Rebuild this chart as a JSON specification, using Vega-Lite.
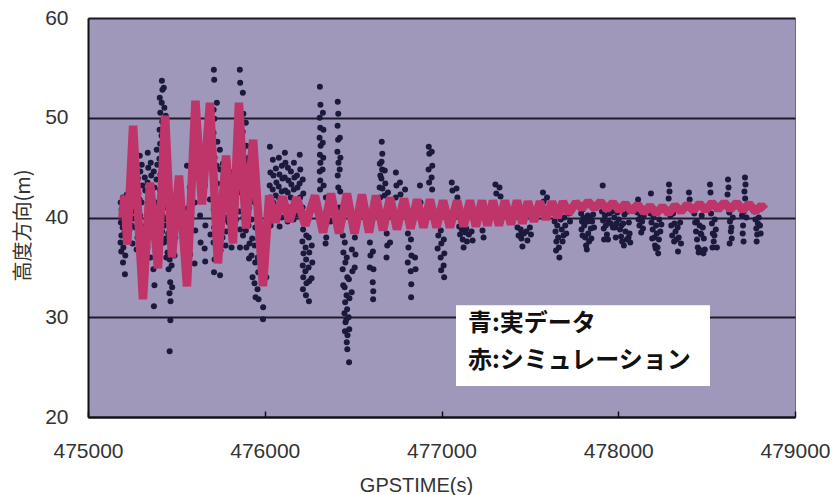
{
  "$schema": "https://vega.github.io/schema/vega-lite/v6.json",
  "width": 707,
  "height": 399,
  "autosize": "none",
  "padding": {"left": 88, "top": 18, "right": 37, "bottom": 78},
  "background": "white",
  "config": {"view": {"fill": "#a098ba", "stroke": "#6e6882", "strokeWidth": 1}},
  "datasets": {
    "real": [
      {"t":475185,"h":41.5},{"t":475190,"h":40.8},{"t":475186,"h":39.5},{"t":475189,"h":38.2},{"t":475184,"h":37.5},{"t":475188,"h":36.6},
      {"t":475197,"h":42.0},{"t":475201,"h":40.2},{"t":475196,"h":39.0},{"t":475200,"h":37.0},{"t":475198,"h":35.5},
      {"t":475208,"h":41.2},{"t":475212,"h":39.8},{"t":475207,"h":38.5},{"t":475211,"h":36.2},{"t":475209,"h":34.3},
      {"t":475220,"h":42.3},{"t":475223,"h":40.5},{"t":475219,"h":38.0},{"t":475222,"h":37.6},
      {"t":475237,"h":43.5},{"t":475240,"h":42.5},{"t":475236,"h":41.0},{"t":475239,"h":40.0},{"t":475235,"h":38.8},
      {"t":475248,"h":44.5},{"t":475251,"h":43.2},{"t":475247,"h":41.8},{"t":475250,"h":40.6},{"t":475246,"h":39.2},{"t":475252,"h":37.4},
      {"t":475259,"h":45.8},{"t":475262,"h":44.0},{"t":475258,"h":42.6},{"t":475261,"h":41.3},{"t":475257,"h":39.9},
      {"t":475271,"h":44.8},{"t":475274,"h":43.6},{"t":475270,"h":42.2},{"t":475273,"h":40.8},{"t":475269,"h":39.0},{"t":475275,"h":36.8},
      {"t":475282,"h":43.9},{"t":475285,"h":42.4},{"t":475281,"h":41.0},{"t":475284,"h":39.6},{"t":475280,"h":38.0},
      {"t":475293,"h":46.2},{"t":475296,"h":44.6},{"t":475292,"h":41.8},{"t":475295,"h":40.2},{"t":475291,"h":37.5},{"t":475297,"h":35.8},
      {"t":475304,"h":45.3},{"t":475307,"h":43.2},{"t":475303,"h":41.5},{"t":475306,"h":39.1},{"t":475302,"h":34.5},{"t":475308,"h":33.0},
      {"t":475321,"h":44.0},{"t":475324,"h":42.7},{"t":475320,"h":38.5},{"t":475323,"h":35.0},
      {"t":475338,"h":46.5},{"t":475341,"h":45.0},{"t":475337,"h":43.5},{"t":475340,"h":40.6},{"t":475336,"h":37.0},
      {"t":475355,"h":45.5},{"t":475358,"h":44.2},{"t":475354,"h":42.0},{"t":475357,"h":39.5},{"t":475353,"h":36.0},
      {"t":475372,"h":44.6},{"t":475375,"h":43.0},{"t":475371,"h":40.8},{"t":475374,"h":38.0},{"t":475370,"h":34.8},{"t":475376,"h":33.2},{"t":475373,"h":31.1},
      {"t":475389,"h":46.8},{"t":475392,"h":45.3},{"t":475388,"h":43.8},{"t":475391,"h":41.5},{"t":475387,"h":39.0},{"t":475393,"h":35.6},
      {"t":475406,"h":52.0},{"t":475409,"h":50.5},{"t":475405,"h":48.8},{"t":475408,"h":47.4},{"t":475404,"h":45.9},{"t":475410,"h":44.3},{"t":475406,"h":42.8},{"t":475409,"h":41.2},{"t":475405,"h":39.6},{"t":475408,"h":38.0},
      {"t":475418,"h":53.7},{"t":475421,"h":52.8},{"t":475417,"h":51.5},{"t":475420,"h":49.6},{"t":475416,"h":48.2},{"t":475422,"h":46.5},{"t":475418,"h":45.0},{"t":475421,"h":43.5},{"t":475417,"h":41.9},{"t":475420,"h":40.2},{"t":475419,"h":38.6},
      {"t":475429,"h":53.0},{"t":475432,"h":51.0},{"t":475428,"h":49.0},{"t":475431,"h":47.0},{"t":475427,"h":45.2},{"t":475433,"h":43.0},{"t":475429,"h":41.0},{"t":475432,"h":39.2},{"t":475430,"h":37.5},
      {"t":475440,"h":50.2},{"t":475443,"h":47.8},{"t":475439,"h":45.5},{"t":475442,"h":43.8},{"t":475438,"h":41.6},{"t":475444,"h":39.8},{"t":475440,"h":37.9},{"t":475443,"h":36.0},
      {"t":475452,"h":44.8},{"t":475455,"h":42.5},{"t":475451,"h":40.0},{"t":475454,"h":38.4},{"t":475450,"h":36.5},{"t":475456,"h":34.8},
      {"t":475463,"h":41.3},{"t":475466,"h":38.8},{"t":475462,"h":35.8},{"t":475465,"h":33.5},{"t":475461,"h":32.4},{"t":475467,"h":31.6},{"t":475466,"h":29.7},{"t":475462,"h":26.6},
      {"t":475474,"h":39.5},{"t":475477,"h":37.2},{"t":475473,"h":35.2},{"t":475476,"h":33.0},
      {"t":475491,"h":40.5},{"t":475494,"h":38.0},{"t":475490,"h":36.2},
      {"t":475560,"h":45.2},{"t":475563,"h":40.9},
      {"t":475576,"h":43.0},{"t":475579,"h":39.5},{"t":475575,"h":37.8},{"t":475578,"h":36.3},
      {"t":475604,"h":41.5},{"t":475607,"h":38.7},{"t":475603,"h":35.4},
      {"t":475634,"h":40.2},{"t":475637,"h":37.5},
      {"t":475661,"h":43.2},{"t":475664,"h":39.2},{"t":475660,"h":36.9},{"t":475663,"h":35.6},
      {"t":475690,"h":41.8},{"t":475693,"h":38.3},
      {"t":475712,"h":54.8},{"t":475714,"h":53.8},{"t":475711,"h":50.8},{"t":475715,"h":49.9},{"t":475710,"h":48.5},{"t":475716,"h":46.0},{"t":475712,"h":44.2},{"t":475715,"h":42.6},{"t":475711,"h":40.8},{"t":475714,"h":39.0},{"t":475710,"h":37.5},{"t":475716,"h":35.8},{"t":475713,"h":34.5},
      {"t":475729,"h":51.5},{"t":475732,"h":47.6},{"t":475728,"h":45.2},{"t":475731,"h":43.4},{"t":475727,"h":41.0},{"t":475733,"h":39.4},{"t":475729,"h":37.8},{"t":475732,"h":36.2},
      {"t":475746,"h":46.8},{"t":475749,"h":44.8},{"t":475745,"h":42.0},{"t":475748,"h":40.3},{"t":475744,"h":38.4},{"t":475750,"h":36.7},{"t":475747,"h":34.2},
      {"t":475763,"h":45.4},{"t":475766,"h":43.5},{"t":475762,"h":41.6},{"t":475765,"h":39.7},{"t":475761,"h":38.0},
      {"t":475780,"h":44.0},{"t":475783,"h":42.1},{"t":475779,"h":40.0},{"t":475782,"h":38.6},{"t":475778,"h":37.2},
      {"t":475797,"h":43.0},{"t":475800,"h":41.3},{"t":475796,"h":39.5},
      {"t":475814,"h":44.5},{"t":475817,"h":42.6},{"t":475813,"h":40.6},{"t":475816,"h":38.8},{"t":475812,"h":37.0},
      {"t":475836,"h":45.0},{"t":475839,"h":43.2},{"t":475835,"h":41.4},{"t":475838,"h":39.8},
      {"t":475859,"h":54.8},{"t":475861,"h":53.5},{"t":475858,"h":51.0},{"t":475862,"h":49.2},{"t":475857,"h":47.8},{"t":475863,"h":46.0},{"t":475859,"h":44.4},{"t":475862,"h":42.5},{"t":475858,"h":40.6},{"t":475861,"h":38.8},{"t":475860,"h":37.0},
      {"t":475876,"h":52.5},{"t":475879,"h":50.4},{"t":475875,"h":48.6},{"t":475878,"h":46.8},{"t":475874,"h":45.2},{"t":475880,"h":43.6},{"t":475876,"h":41.9},{"t":475879,"h":40.0},{"t":475877,"h":38.2},
      {"t":475893,"h":49.5},{"t":475896,"h":47.2},{"t":475892,"h":45.6},{"t":475895,"h":44.0},{"t":475891,"h":42.2},{"t":475897,"h":40.5},{"t":475893,"h":38.7},{"t":475896,"h":37.0},
      {"t":475910,"h":46.0},{"t":475913,"h":44.5},{"t":475909,"h":42.7},{"t":475912,"h":41.0},{"t":475908,"h":39.2},{"t":475914,"h":37.4},{"t":475911,"h":35.9},
      {"t":475927,"h":44.5},{"t":475930,"h":42.0},{"t":475926,"h":39.8},{"t":475929,"h":37.9},{"t":475925,"h":36.2},{"t":475931,"h":34.0},
      {"t":475944,"h":41.5},{"t":475947,"h":39.0},{"t":475943,"h":37.2},{"t":475946,"h":35.5},{"t":475942,"h":33.4},{"t":475948,"h":32.0},
      {"t":475961,"h":40.2},{"t":475964,"h":37.8},{"t":475960,"h":36.0},{"t":475963,"h":34.5},{"t":475959,"h":32.8},{"t":475965,"h":31.8},
      {"t":475989,"h":38.5},{"t":475992,"h":36.4},{"t":475988,"h":34.2},{"t":475991,"h":31.0},{"t":475990,"h":29.8},
      {"t":476006,"h":37.0},{"t":476009,"h":34.0},
      {"t":476029,"h":47.1},{"t":476032,"h":44.5},{"t":476028,"h":43.2},{"t":476031,"h":42.0},{"t":476027,"h":40.6},{"t":476033,"h":39.2},
      {"t":476046,"h":45.8},{"t":476049,"h":44.2},{"t":476045,"h":42.8},{"t":476048,"h":41.5},{"t":476044,"h":40.0},
      {"t":476063,"h":44.9},{"t":476066,"h":43.5},{"t":476062,"h":42.2},{"t":476065,"h":40.8},
      {"t":476080,"h":46.0},{"t":476083,"h":44.3},{"t":476079,"h":43.1},{"t":476082,"h":41.9},{"t":476078,"h":40.4},{"t":476084,"h":39.1},
      {"t":476097,"h":45.2},{"t":476100,"h":43.9},{"t":476096,"h":42.6},{"t":476099,"h":41.2},{"t":476095,"h":40.0},
      {"t":476114,"h":46.5},{"t":476117,"h":45.5},{"t":476113,"h":44.0},{"t":476116,"h":42.7},{"t":476112,"h":41.5},
      {"t":476131,"h":45.0},{"t":476134,"h":43.7},{"t":476130,"h":42.5},{"t":476133,"h":41.0},{"t":476129,"h":39.6},
      {"t":476148,"h":44.6},{"t":476151,"h":43.3},{"t":476147,"h":42.0},{"t":476150,"h":40.7},
      {"t":476165,"h":45.5},{"t":476168,"h":44.0},{"t":476164,"h":42.8},{"t":476167,"h":41.4},{"t":476163,"h":39.8},
      {"t":476182,"h":44.2},{"t":476185,"h":43.0},{"t":476181,"h":41.6},{"t":476184,"h":40.3},
      {"t":476198,"h":46.3},{"t":476201,"h":44.8},{"t":476197,"h":43.4},{"t":476200,"h":42.0},{"t":476196,"h":40.5},
      {"t":476215,"h":43.8},{"t":476218,"h":42.4},{"t":476214,"h":41.0},{"t":476217,"h":38.8},{"t":476213,"h":37.6},{"t":476219,"h":36.4},{"t":476215,"h":35.2},{"t":476218,"h":34.0},{"t":476216,"h":32.8},
      {"t":476232,"h":39.5},{"t":476235,"h":38.2},{"t":476231,"h":37.0},{"t":476234,"h":35.8},{"t":476230,"h":34.6},{"t":476236,"h":33.4},{"t":476233,"h":32.2},
      {"t":476249,"h":38.0},{"t":476252,"h":36.5},{"t":476248,"h":35.0},{"t":476251,"h":33.6},{"t":476250,"h":31.6},
      {"t":476266,"h":37.2},{"t":476269,"h":35.5},{"t":476265,"h":33.9},
      {"t":476312,"h":53.1},{"t":476315,"h":51.3},{"t":476311,"h":50.0},{"t":476314,"h":49.0},{"t":476310,"h":48.0},{"t":476316,"h":47.2},{"t":476312,"h":46.3},{"t":476315,"h":45.5},{"t":476311,"h":44.6},{"t":476314,"h":43.7},{"t":476313,"h":42.8},
      {"t":476329,"h":50.5},{"t":476332,"h":48.8},{"t":476328,"h":47.5},{"t":476331,"h":46.0},{"t":476327,"h":44.8},{"t":476333,"h":43.2},
      {"t":476346,"h":42.0},{"t":476349,"h":40.5},{"t":476345,"h":39.3},{"t":476348,"h":38.0},{"t":476344,"h":37.4},
      {"t":476369,"h":41.2},{"t":476372,"h":39.6},
      {"t":476413,"h":51.6},{"t":476416,"h":50.4},{"t":476412,"h":49.2},{"t":476415,"h":47.8},{"t":476411,"h":46.6},{"t":476417,"h":45.5},{"t":476413,"h":44.2},{"t":476416,"h":43.0},
      {"t":476425,"h":48.0},{"t":476428,"h":46.0},{"t":476424,"h":44.8},{"t":476427,"h":42.6},{"t":476423,"h":41.0},
      {"t":476442,"h":38.2},{"t":476445,"h":36.5},{"t":476441,"h":34.8},{"t":476444,"h":33.2},
      {"t":476453,"h":37.5},{"t":476456,"h":35.5},{"t":476452,"h":33.0},{"t":476455,"h":31.5},{"t":476451,"h":30.4},{"t":476457,"h":29.5},{"t":476454,"h":28.6},
      {"t":476464,"h":36.0},{"t":476467,"h":34.0},{"t":476463,"h":32.2},{"t":476466,"h":30.8},{"t":476462,"h":29.8},{"t":476468,"h":28.2},{"t":476464,"h":27.5},{"t":476467,"h":26.8},
      {"t":476476,"h":33.8},{"t":476479,"h":31.9},{"t":476475,"h":30.0},{"t":476478,"h":28.8},{"t":476477,"h":25.5},
      {"t":476493,"h":36.8},{"t":476496,"h":34.6},{"t":476492,"h":32.5},
      {"t":476510,"h":38.0},{"t":476513,"h":36.3},{"t":476509,"h":35.0},
      {"t":476595,"h":37.5},{"t":476598,"h":36.2},{"t":476594,"h":35.0},
      {"t":476612,"h":36.6},{"t":476615,"h":34.8},{"t":476611,"h":33.5},{"t":476614,"h":32.6},{"t":476613,"h":31.8},
      {"t":476651,"h":45.4},{"t":476654,"h":44.2},{"t":476650,"h":43.0},{"t":476653,"h":42.0},
      {"t":476662,"h":47.6},{"t":476665,"h":46.4},{"t":476661,"h":45.6},{"t":476664,"h":44.8},{"t":476660,"h":43.9},{"t":476666,"h":42.9},
      {"t":476679,"h":44.7},{"t":476682,"h":43.4},{"t":476678,"h":42.2},
      {"t":476697,"h":42.5},{"t":476700,"h":40.5},
      {"t":476690,"h":38.4},{"t":476693,"h":37.2},{"t":476689,"h":36.0},{"t":476709,"h":37.5},
      {"t":476742,"h":44.5},{"t":476745,"h":43.2},{"t":476741,"h":42.0},
      {"t":476765,"h":43.5},{"t":476768,"h":42.3},{"t":476794,"h":42.8},
      {"t":476810,"h":38.4},{"t":476813,"h":37.0},{"t":476809,"h":35.5},
      {"t":476827,"h":37.8},{"t":476830,"h":36.2},{"t":476826,"h":34.6},{"t":476829,"h":33.3},{"t":476828,"h":32.0},
      {"t":476850,"h":36.0},{"t":476853,"h":34.8},
      {"t":476878,"h":43.2},{"t":476881,"h":41.5},
      {"t":476928,"h":47.1},{"t":476931,"h":46.4},{"t":476927,"h":44.8},{"t":476930,"h":43.5},
      {"t":476945,"h":46.6},{"t":476948,"h":45.2},{"t":476944,"h":44.0},{"t":476947,"h":42.8},
      {"t":476979,"h":39.6},{"t":476982,"h":38.2},{"t":476978,"h":36.9},
      {"t":476996,"h":38.7},{"t":476999,"h":37.4},{"t":476995,"h":36.0},{"t":476998,"h":34.7},
      {"t":477013,"h":37.8},{"t":477016,"h":36.4},{"t":477012,"h":35.2},{"t":477015,"h":34.0},
      {"t":477058,"h":43.5},{"t":477062,"h":42.7},{"t":477085,"h":42.9},{"t":477090,"h":42.0},
      {"t":477100,"h":39.1},{"t":477105,"h":38.3},{"t":477115,"h":38.8},{"t":477120,"h":37.8},{"t":477125,"h":37.0},{"t":477135,"h":38.5},{"t":477140,"h":38.9},{"t":477144,"h":37.6},{"t":477155,"h":38.3},{"t":477170,"h":38.6},{"t":477176,"h":37.7},
      {"t":477232,"h":38.7},{"t":477238,"h":38.0},
      {"t":477305,"h":43.3},{"t":477310,"h":42.4},{"t":477328,"h":43.0},{"t":477334,"h":42.1},
      {"t":477430,"h":39.0},{"t":477436,"h":38.2},{"t":477448,"h":38.8},{"t":477452,"h":37.9},{"t":477455,"h":38.4},{"t":477458,"h":37.1},{"t":477466,"h":38.4},{"t":477480,"h":38.6},{"t":477486,"h":37.7},{"t":477500,"h":39.0},{"t":477506,"h":38.3},
      {"t":477574,"h":42.5},{"t":477578,"h":41.6},{"t":477597,"h":42.0},
      {"t":477640,"h":39.6},{"t":477645,"h":38.6},{"t":477648,"h":36.7},{"t":477650,"h":37.6},{"t":477655,"h":39.2},{"t":477660,"h":38.0},{"t":477664,"h":37.0},{"t":477667,"h":36.0},{"t":477675,"h":39.8},{"t":477680,"h":38.8},{"t":477685,"h":37.6},{"t":477690,"h":38.2},{"t":477695,"h":40.0},{"t":477700,"h":39.2},{"t":477706,"h":38.4},{"t":477720,"h":40.4},{"t":477727,"h":39.6},
      {"t":477790,"h":40.4},{"t":477795,"h":39.6},{"t":477792,"h":38.8},{"t":477798,"h":38.2},{"t":477798,"h":40.8},{"t":477803,"h":40.0},{"t":477808,"h":39.2},{"t":477812,"h":39.8},{"t":477813,"h":38.0},{"t":477818,"h":37.2},{"t":477822,"h":36.8},{"t":477826,"h":39.6},{"t":477828,"h":40.2},{"t":477830,"h":38.4},{"t":477835,"h":37.6},{"t":477840,"h":40.0},{"t":477845,"h":38.9},{"t":477848,"h":37.9},{"t":477852,"h":39.6},{"t":477858,"h":40.3},{"t":477863,"h":39.0},
      {"t":477912,"h":43.2},{"t":477908,"h":40.6},{"t":477914,"h":39.7},{"t":477918,"h":38.9},{"t":477920,"h":37.8},{"t":477925,"h":40.2},{"t":477930,"h":39.2},{"t":477936,"h":38.3},{"t":477942,"h":37.8},{"t":477945,"h":39.6},{"t":477950,"h":40.4},{"t":477958,"h":39.4},{"t":477965,"h":40.6},{"t":477970,"h":39.0},
      {"t":477978,"h":40.0},{"t":477982,"h":39.0},{"t":477986,"h":38.0},{"t":477990,"h":39.4},{"t":477995,"h":40.5},{"t":478003,"h":39.8},{"t":478010,"h":38.8},{"t":478016,"h":38.1},{"t":478018,"h":39.2},{"t":478022,"h":37.6},{"t":478028,"h":39.4},{"t":478032,"h":37.2},{"t":478035,"h":40.3},{"t":478041,"h":38.6},{"t":478048,"h":37.8},{"t":478055,"h":40.6},{"t":478058,"h":38.0},{"t":478060,"h":39.5},{"t":478064,"h":38.4},{"t":478068,"h":37.5},
      {"t":478112,"h":41.8},{"t":478108,"h":40.5},{"t":478115,"h":39.8},{"t":478120,"h":39.2},{"t":478125,"h":40.3},{"t":478130,"h":38.5},{"t":478135,"h":39.6},{"t":478140,"h":38.9},{"t":478145,"h":40.2},
      {"t":478185,"h":42.4},{"t":478182,"h":40.4},{"t":478188,"h":39.5},{"t":478192,"h":37.9},{"t":478195,"h":38.8},{"t":478200,"h":40.0},{"t":478205,"h":38.0},{"t":478208,"h":37.2},{"t":478212,"h":36.9},{"t":478214,"h":39.2},{"t":478218,"h":38.4},{"t":478222,"h":37.0},{"t":478226,"h":36.4},{"t":478230,"h":37.8},{"t":478232,"h":39.8},{"t":478238,"h":38.6},{"t":478244,"h":39.3},
      {"t":478287,"h":43.3},{"t":478290,"h":42.6},{"t":478285,"h":41.9},{"t":478295,"h":40.2},{"t":478300,"h":39.2},{"t":478305,"h":38.2},{"t":478310,"h":40.4},{"t":478316,"h":37.6},{"t":478318,"h":39.4},{"t":478324,"h":38.6},{"t":478330,"h":37.8},{"t":478336,"h":39.0},{"t":478338,"h":36.6},{"t":478342,"h":38.0},{"t":478350,"h":39.5},{"t":478355,"h":37.4},
      {"t":478400,"h":42.5},{"t":478404,"h":41.8},{"t":478430,"h":40.4},{"t":478435,"h":39.5},{"t":478440,"h":38.6},{"t":478445,"h":39.6},{"t":478446,"h":37.8},{"t":478450,"h":37.0},{"t":478455,"h":36.5},{"t":478458,"h":36.8},{"t":478460,"h":39.2},{"t":478466,"h":38.4},{"t":478470,"h":38.3},{"t":478472,"h":40.2},{"t":478478,"h":39.0},{"t":478482,"h":36.4},{"t":478484,"h":37.9},{"t":478490,"h":36.8},
      {"t":478519,"h":43.3},{"t":478522,"h":42.5},{"t":478525,"h":40.4},{"t":478530,"h":39.4},{"t":478533,"h":37.0},{"t":478535,"h":38.4},{"t":478540,"h":37.6},{"t":478544,"h":38.2},{"t":478546,"h":39.8},{"t":478552,"h":38.8},{"t":478558,"h":37.0},
      {"t":478621,"h":43.8},{"t":478624,"h":43.0},{"t":478618,"h":42.3},{"t":478628,"h":40.5},{"t":478630,"h":37.4},{"t":478632,"h":39.6},{"t":478637,"h":38.6},{"t":478640,"h":39.0},{"t":478642,"h":37.9},{"t":478648,"h":40.0},
      {"t":478700,"h":40.2},{"t":478704,"h":38.4},{"t":478706,"h":39.2},{"t":478709,"h":37.6},{"t":478711,"h":40.6},{"t":478717,"h":44.0},{"t":478720,"h":43.3},{"t":478714,"h":42.6},{"t":478718,"h":41.9},{"t":478725,"h":40.0},
      {"t":478770,"h":40.6},{"t":478776,"h":39.8},{"t":478781,"h":38.9},{"t":478783,"h":37.6},{"t":478786,"h":38.3},{"t":478790,"h":39.4},{"t":478795,"h":40.0},{"t":478802,"h":39.2},{"t":478806,"h":38.4}
    ],
    "sim": [
      {"t":475195,"h":40.0},{"t":475207,"h":42.2},{"t":475222,"h":37.3},{"t":475255,"h":49.2},{"t":475311,"h":31.8},
      {"t":475351,"h":43.5},{"t":475396,"h":34.9},{"t":475436,"h":50.2},{"t":475475,"h":36.0},{"t":475515,"h":44.2},
      {"t":475560,"h":33.1},{"t":475608,"h":51.7},{"t":475645,"h":41.3},{"t":475690,"h":51.5},{"t":475735,"h":35.4},
      {"t":475781,"h":46.2},{"t":475820,"h":37.4},{"t":475854,"h":51.5},{"t":475894,"h":38.9},{"t":475934,"h":47.8},
      {"t":475990,"h":33.1},{"t":476025,"h":42.2},{"t":476060,"h":39.5},{"t":476100,"h":42.1},{"t":476140,"h":39.6},
      {"t":476180,"h":42.0},{"t":476230,"h":39.2},{"t":476284,"h":42.2},{"t":476330,"h":38.5},{"t":476375,"h":42.4},
      {"t":476420,"h":38.4},{"t":476465,"h":42.4},{"t":476508,"h":38.4},{"t":476550,"h":42.3},{"t":476590,"h":38.5},
      {"t":476629,"h":42.2},{"t":476669,"h":38.7},{"t":476709,"h":42.0},{"t":476748,"h":38.8},{"t":476788,"h":41.9},
      {"t":476825,"h":38.9},{"t":476862,"h":41.8},{"t":476898,"h":39.0},{"t":476935,"h":41.8},{"t":476972,"h":39.0},
      {"t":477009,"h":41.7},{"t":477048,"h":39.0},{"t":477088,"h":41.7},{"t":477125,"h":39.1},{"t":477161,"h":41.7},
      {"t":477195,"h":39.1},{"t":477229,"h":41.7},{"t":477260,"h":39.2},{"t":477291,"h":41.7},{"t":477325,"h":39.2},
      {"t":477359,"h":41.7},{"t":477393,"h":39.3},{"t":477427,"h":41.7},{"t":477458,"h":39.4},{"t":477489,"h":41.6},
      {"t":477523,"h":39.6},{"t":477557,"h":41.6},{"t":477591,"h":39.8},{"t":477625,"h":41.6},{"t":477656,"h":40.0},
      {"t":477687,"h":41.6},{"t":477720,"h":40.4},{"t":477760,"h":41.5},{"t":477795,"h":40.9},{"t":477830,"h":41.6},
      {"t":477865,"h":40.9},{"t":477900,"h":41.6},{"t":477935,"h":40.8},{"t":477970,"h":41.5},{"t":478005,"h":40.7},
      {"t":478040,"h":41.4},{"t":478075,"h":40.6},{"t":478110,"h":41.3},{"t":478145,"h":40.5},{"t":478180,"h":41.15},
      {"t":478215,"h":40.4},{"t":478250,"h":41.1},{"t":478285,"h":40.4},{"t":478320,"h":41.2},{"t":478355,"h":40.6},
      {"t":478390,"h":41.3},{"t":478425,"h":40.7},{"t":478460,"h":41.4},{"t":478495,"h":40.7},{"t":478530,"h":41.5},
      {"t":478565,"h":40.8},{"t":478600,"h":41.5},{"t":478635,"h":40.8},{"t":478670,"h":41.5},{"t":478705,"h":40.7},
      {"t":478740,"h":41.4},{"t":478775,"h":40.6},{"t":478810,"h":41.2},{"t":478830,"h":40.8}
    ]
  },
  "layer": [
    {
      "data": {"name": "real"},
      "mark": {"type": "point", "filled": true, "shape": "circle", "size": 36, "color": "#1c1a3c", "opacity": 1},
      "encoding": {
        "x": {
          "field": "t", "type": "quantitative",
          "scale": {"domain": [475000, 479000], "nice": false, "zero": false},
          "axis": {
            "values": [475000, 476000, 477000, 478000, 479000], "format": "d",
            "grid": false, "domainColor": "#111111", "domainWidth": 2,
            "tickColor": "#111111", "tickSize": -6, "tickWidth": 1.5,
            "labelPadding": 29, "labelFontSize": 21, "labelFont": "Liberation Sans", "labelColor": "#333333",
            "labelFlush": false, "labelOverlap": false,
            "title": "GPSTIME(s)", "titleFont": "Liberation Sans", "titleFontSize": 20,
            "titleFontWeight": "normal", "titleColor": "#333333",
            "titleX": 328, "titleY": 68, "titleAlign": "center", "titleBaseline": "middle"
          }
        },
        "y": {
          "field": "h", "type": "quantitative",
          "scale": {"domain": [20, 60], "nice": false, "zero": false},
          "axis": {
            "values": [20, 30, 40, 50, 60],
            "grid": true, "gridColor": "#1e1a2c", "gridWidth": 2, "gridOpacity": 1,
            "ticks": false, "domainColor": "#111111", "domainWidth": 2,
            "labelPadding": 20, "labelFontSize": 21, "labelFont": "Liberation Sans", "labelColor": "#333333",
            "title": "高度方向(m)", "titleFont": "Noto Sans CJK JP", "titleFontSize": 20,
            "titleFontWeight": "normal", "titleColor": "#333333",
            "titleX": -65, "titleY": 207, "titleAlign": "center", "titleBaseline": "middle", "titleAngle": -90
          }
        }
      }
    },
    {
      "data": {"name": "sim"},
      "mark": {"type": "line", "color": "#bf3469", "strokeWidth": 8.5, "strokeJoin": "bevel"},
      "encoding": {
        "x": {"field": "t", "type": "quantitative"},
        "y": {"field": "h", "type": "quantitative"}
      }
    },
    {
      "data": {"values": [{}]},
      "mark": {"type": "rect", "color": "white", "opacity": 1},
      "encoding": {
        "x": {"datum": 477082, "type": "quantitative"},
        "x2": {"datum": 478519},
        "y": {"datum": 31.2, "type": "quantitative"},
        "y2": {"datum": 23.1}
      }
    },
    {
      "data": {"values": [{}]},
      "mark": {"type": "text", "text": "青:実データ", "align": "left", "baseline": "middle", "font": "Noto Sans CJK JP", "fontSize": 24, "fontWeight": "bold", "color": "#111111"},
      "encoding": {
        "x": {"datum": 477150, "type": "quantitative"},
        "y": {"datum": 29.3, "type": "quantitative"}
      }
    },
    {
      "data": {"values": [{}]},
      "mark": {"type": "text", "text": "赤:シミュレーション", "align": "left", "baseline": "middle", "font": "Noto Sans CJK JP", "fontSize": 24, "fontWeight": "bold", "color": "#111111"},
      "encoding": {
        "x": {"datum": 477150, "type": "quantitative"},
        "y": {"datum": 25.6, "type": "quantitative"}
      }
    }
  ]
}
